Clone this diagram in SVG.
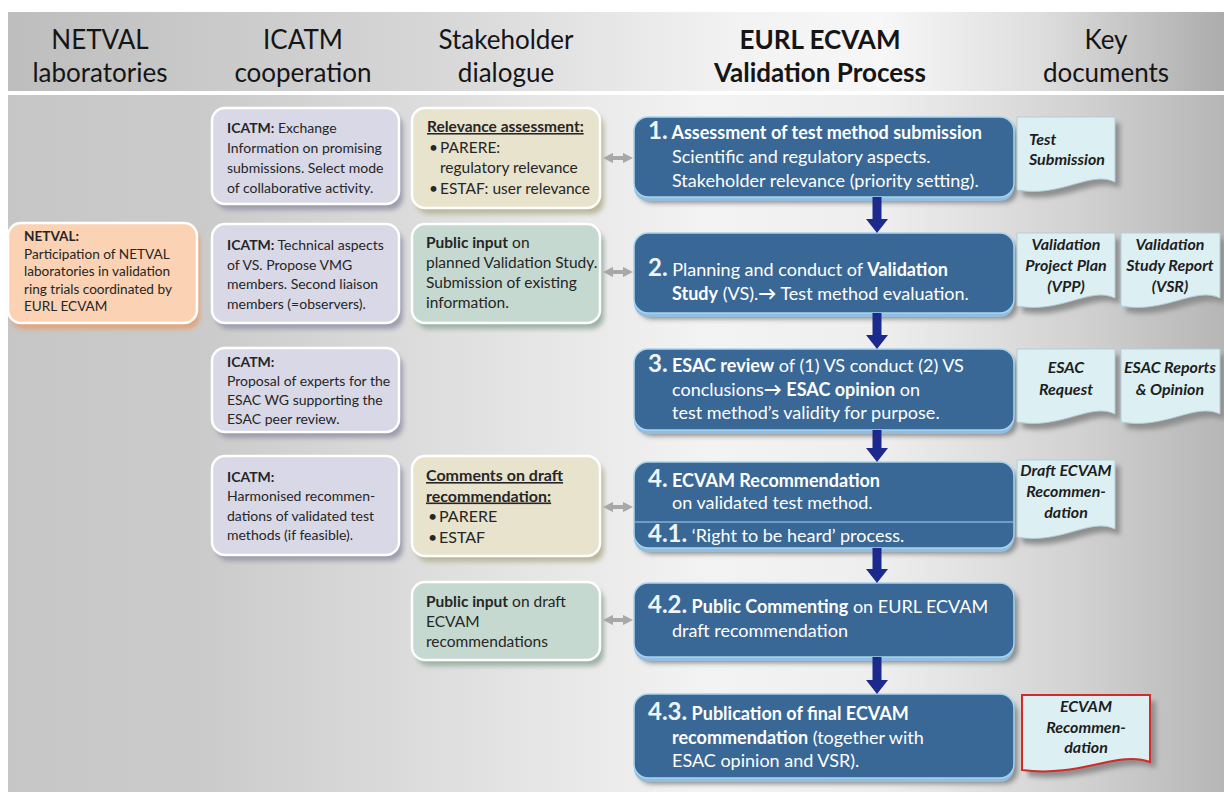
<svg xmlns="http://www.w3.org/2000/svg" width="1224" height="792" viewBox="0 0 1224 792">
<defs>
<linearGradient id="gHead" x1="0" y1="0" x2="1224" y2="0" gradientUnits="userSpaceOnUse">
<stop offset="0" stop-color="#bdbdbd"/><stop offset="0.35" stop-color="#d6d6d6"/><stop offset="0.6" stop-color="#f2f2f2"/><stop offset="0.72" stop-color="#f7f7f7"/><stop offset="0.85" stop-color="#dedede"/><stop offset="1" stop-color="#acacac"/>
</linearGradient>
<linearGradient id="gBody" x1="0" y1="0" x2="1224" y2="0" gradientUnits="userSpaceOnUse">
<stop offset="0" stop-color="#c6c6c6"/><stop offset="0.17" stop-color="#cbcbcb"/><stop offset="0.4" stop-color="#e2e2e2"/><stop offset="0.58" stop-color="#f3f3f3"/><stop offset="0.72" stop-color="#eeeeee"/><stop offset="0.88" stop-color="#d2d2d2"/><stop offset="1" stop-color="#b6b6b6"/>
</linearGradient>
<filter id="blur" x="-20%" y="-20%" width="140%" height="150%"><feGaussianBlur stdDeviation="2.5"/></filter>
<marker id="ga" viewBox="0 0 10 10" refX="5" refY="5" markerWidth="2.6" markerHeight="2.6" orient="auto-start-reverse"><path d="M0,0 L10,5 L0,10 z" fill="#a8a8a8"/></marker>
<style>
text{font-family:Lato,"Open Sans","Liberation Sans",sans-serif}
.hd{font-size:26px;fill:#151515;text-anchor:middle}
.hb{font-weight:bold}
.box{stroke:#ffffff;stroke-width:2.5}
.ic{fill:#d8d8e7}.icS{fill:#9c9cad}
.tan{fill:#e7e3cd}.tanS{fill:#bbb79c}
.grn{fill:#c5d9d0}.grnS{fill:#9db2a6}
.nv{fill:#fbd2b3}.nvS{fill:#e2a47a}
.tx{font-size:14px;fill:#262626}
.nx{font-size:13.6px;fill:#262626}
.sx{font-size:15.5px;fill:#262626}
.b{font-weight:bold}
.u{text-decoration:underline}
.pb{fill:#3a6896;stroke:#a6d4ee;stroke-width:1.5}
.pband{fill:#92bddc}
.pshadow{fill:#8c8c8c}
.pt{font-size:18px;fill:#ffffff}
.num{font-size:24px;font-weight:bold;fill:#eef5fa}
.doc{fill:#dcf0f4;stroke:#b3cdd6;stroke-width:1}
.docS{fill:#8e8e8e}
.dt{font-size:16px;font-weight:bold;font-style:italic;fill:#1e1e1e}
.dc{text-anchor:middle}
.down{fill:#1c2a8e}
.dbl{stroke:#a8a8a8;stroke-width:4;fill:none;marker-start:url(#ga);marker-end:url(#ga)}
</style>
</defs>
<rect width="1224" height="792" fill="#ffffff"/>
<rect x="8" y="12" width="1216" height="79" fill="url(#gHead)"/>
<rect x="8" y="95" width="1216" height="697" fill="url(#gBody)"/>

<g id="headers">
<text class="hd" x="100" y="49">NETVAL</text><text class="hd" x="100" y="82">laboratories</text>
<text class="hd" x="303" y="49">ICATM</text><text class="hd" x="303" y="82">cooperation</text>
<text class="hd" x="506" y="49">Stakeholder</text><text class="hd" x="506" y="82">dialogue</text>
<text class="hd hb" x="820" y="49">EURL ECVAM</text><text class="hd hb" x="820" y="82">Validation Process</text>
<text class="hd" x="1106" y="49">Key</text><text class="hd" x="1106" y="82">documents</text>
</g>

<g id="netval">
<rect class="nvS" x="11" y="229" width="189" height="100" rx="13" filter="url(#blur)"/>
<rect class="box nv" x="8" y="223" width="189" height="100" rx="13"/>
<text class="nx" x="24" y="241"><tspan class="b">NETVAL:</tspan><tspan x="24" dy="17.5">Participation of NETVAL</tspan><tspan x="24" dy="17.5">laboratories in validation</tspan><tspan x="24" dy="17.5">ring trials coordinated by</tspan><tspan x="24" dy="17.5">EURL ECVAM</tspan></text>
</g>

<g id="icatm1">
<rect class="icS" x="216" y="114" width="187" height="96" rx="13" filter="url(#blur)"/>
<rect class="box ic" x="212" y="108" width="187" height="96" rx="13"/>
<text class="tx" x="227" y="133"><tspan class="b">ICATM:</tspan> Exchange<tspan x="227" dy="20">Information on promising</tspan><tspan x="227" dy="20">submissions. Select mode</tspan><tspan x="227" dy="20">of collaborative activity.</tspan></text>
</g>
<g id="icatm2">
<rect class="icS" x="216" y="230" width="187" height="99" rx="13" filter="url(#blur)"/>
<rect class="box ic" x="212" y="224" width="187" height="99" rx="13"/>
<text class="tx" x="227" y="250"><tspan class="b">ICATM:</tspan> Technical aspects<tspan x="227" dy="19.5">of VS. Propose VMG</tspan><tspan x="227" dy="19.5">members. Second liaison</tspan><tspan x="227" dy="19.5">members (=observers).</tspan></text>
</g>
<g id="icatm3">
<rect class="icS" x="216" y="354" width="187" height="84" rx="13" filter="url(#blur)"/>
<rect class="box ic" x="212" y="348" width="187" height="84" rx="13"/>
<text class="tx" x="227" y="367"><tspan class="b">ICATM:</tspan><tspan x="227" dy="19">Proposal of experts for the</tspan><tspan x="227" dy="19">ESAC WG supporting the</tspan><tspan x="227" dy="19">ESAC peer review.</tspan></text>
</g>
<g id="icatm4">
<rect class="icS" x="216" y="462" width="187" height="99" rx="13" filter="url(#blur)"/>
<rect class="box ic" x="212" y="456" width="187" height="99" rx="13"/>
<text class="tx" x="227" y="482"><tspan class="b">ICATM:</tspan><tspan x="227" dy="19.3">Harmonised recommen-</tspan><tspan x="227" dy="19.3">dations of validated test</tspan><tspan x="227" dy="19.3">methods (if feasible).</tspan></text>
</g>

<g id="stake1">
<rect class="tanS" x="416" y="114" width="188" height="100" rx="13" filter="url(#blur)"/>
<rect class="box tan" x="412" y="108" width="188" height="100" rx="13"/>
<text class="sx" x="427" y="132"><tspan class="b u">Relevance assessment:</tspan><tspan x="429" dy="20.5">•</tspan><tspan x="440">PARERE:</tspan><tspan x="440" dy="20.5">regulatory relevance</tspan><tspan x="429" dy="20.5">•</tspan><tspan x="440">ESTAF: user relevance</tspan></text>
</g>
<g id="stake2">
<rect class="grnS" x="416" y="230" width="188" height="99" rx="13" filter="url(#blur)"/>
<rect class="box grn" x="412" y="224" width="188" height="99" rx="13"/>
<text class="sx" x="426" y="248"><tspan class="b">Public input</tspan> on<tspan x="426" dy="20">planned Validation Study.</tspan><tspan x="426" dy="20">Submission of existing</tspan><tspan x="426" dy="20">information.</tspan></text>
</g>
<g id="stake3">
<rect class="tanS" x="416" y="462" width="188" height="100" rx="13" filter="url(#blur)"/>
<rect class="box tan" x="412" y="456" width="188" height="100" rx="13"/>
<text class="sx" x="426" y="481" style="font-size:16px"><tspan class="b u">Comments on draft</tspan><tspan class="b u" x="426" dy="20.5">recommendation:</tspan><tspan x="428" dy="20.5">•</tspan><tspan x="439">PARERE</tspan><tspan x="428" dy="20.5">•</tspan><tspan x="439">ESTAF</tspan></text>
</g>
<g id="stake4">
<rect class="grnS" x="416" y="588" width="188" height="78" rx="13" filter="url(#blur)"/>
<rect class="box grn" x="412" y="582" width="188" height="78" rx="13"/>
<text class="sx" x="426" y="607"><tspan class="b">Public input</tspan> on draft<tspan x="426" dy="20">ECVAM</tspan><tspan x="426" dy="20">recommendations</tspan></text>
</g>

<g id="p1">
<rect class="pshadow" x="638" y="123" width="380" height="80" rx="14" filter="url(#blur)"/>
<rect class="pband" x="634" y="121" width="380" height="80" rx="14"/>
<rect class="pb" x="634" y="117" width="380" height="80" rx="14"/>
<text class="pt" x="648" y="139"><tspan class="num">1.</tspan><tspan class="b"> Assessment of test method submission</tspan><tspan x="672" dy="24">Scientific and regulatory aspects.</tspan><tspan x="672" dy="24">Stakeholder relevance (priority setting).</tspan></text>
</g>
<g id="p2">
<rect class="pshadow" x="638" y="239" width="380" height="80" rx="14" filter="url(#blur)"/>
<rect class="pband" x="634" y="237" width="380" height="80" rx="14"/>
<rect class="pb" x="634" y="233" width="380" height="80" rx="14"/>
<text class="pt" x="648" y="276"><tspan class="num">2.</tspan> Planning and conduct of <tspan class="b">Validation</tspan><tspan class="b" x="672" dy="24">Study</tspan>  (VS).<tspan class="b">→</tspan>  Test method evaluation.</text>
</g>
<g id="p3">
<rect class="pshadow" x="638" y="355" width="380" height="81" rx="14" filter="url(#blur)"/>
<rect class="pband" x="634" y="353" width="380" height="81" rx="14"/>
<rect class="pb" x="634" y="349" width="380" height="81" rx="14"/>
<text class="pt" x="648" y="372"><tspan class="num">3.</tspan><tspan class="b"> ESAC review</tspan> of  (1) VS conduct (2) VS<tspan x="672" dy="23.5">conclusions</tspan><tspan class="b">→</tspan>  <tspan class="b">ESAC opinion</tspan> on<tspan x="672" dy="23.5">test method’s validity for purpose.</tspan></text>
</g>
<g id="p4">
<rect class="pshadow" x="638" y="468" width="380" height="86" rx="14" filter="url(#blur)"/>
<rect class="pband" x="634" y="466" width="380" height="86" rx="14"/>
<rect class="pb" x="634" y="462" width="380" height="86" rx="14"/>
<line x1="635" y1="522" x2="1013" y2="522" stroke="#a6d4ee" stroke-width="1"/>
<text class="pt" x="648" y="487"><tspan class="num">4.</tspan><tspan class="b"> ECVAM Recommendation</tspan><tspan x="672" dy="22">on validated test method.</tspan><tspan class="num" x="648" dy="33">4.1.</tspan> ‘Right to be heard’ process.</text>
</g>
<g id="p42">
<rect class="pshadow" x="638" y="589" width="380" height="74" rx="14" filter="url(#blur)"/>
<rect class="pband" x="634" y="587" width="380" height="74" rx="14"/>
<rect class="pb" x="634" y="583" width="380" height="74" rx="14"/>
<text class="pt" x="648" y="613"><tspan class="num">4.2.</tspan><tspan class="b"> Public Commenting</tspan> on EURL ECVAM<tspan x="672" dy="24">draft recommendation</tspan></text>
</g>
<g id="p43">
<rect class="pshadow" x="638" y="700" width="380" height="84" rx="14" filter="url(#blur)"/>
<rect class="pband" x="634" y="698" width="380" height="84" rx="14"/>
<rect class="pb" x="634" y="694" width="380" height="84" rx="14"/>
<text class="pt" x="648" y="720"><tspan class="num">4.3.</tspan><tspan class="b"> Publication of final ECVAM</tspan><tspan class="b" x="672" dy="23.5">recommendation</tspan>  (together with<tspan x="672" dy="23.5">ESAC opinion and VSR).</tspan></text>
</g>

<g id="doc-test">
<path class="docS" d="M1022 123 H1120 V188 C1095 176 1066 204 1022 196 Z" filter="url(#blur)"/>
<path class="doc" d="M1017 117 H1115 V182 C1090 170 1061 198 1017 190 Z"/>
<text class="dt" x="1029" y="145">Test<tspan x="1029" dy="20">Submission</tspan></text>
</g>
<g id="doc-vpp">
<path class="docS" d="M1022 239 H1120 V304 C1095 292 1066 320 1022 312 Z" filter="url(#blur)"/>
<path class="doc" d="M1017 233 H1115 V298 C1090 286 1061 314 1017 306 Z"/>
<text class="dt dc" x="1066" y="250">Validation<tspan x="1066" dy="21">Project Plan</tspan><tspan x="1066" dy="21">(VPP)</tspan></text>
</g>
<g id="doc-vsr">
<path class="docS" d="M1126 239 H1225 V304 C1200 292 1170 320 1126 312 Z" filter="url(#blur)"/>
<path class="doc" d="M1121 233 H1220 V298 C1195 286 1165 314 1121 306 Z"/>
<text class="dt dc" x="1170" y="250">Validation<tspan x="1170" dy="21">Study Report</tspan><tspan x="1170" dy="21">(VSR)</tspan></text>
</g>
<g id="doc-esacreq">
<path class="docS" d="M1022 355 H1120 V420 C1095 408 1066 436 1022 428 Z" filter="url(#blur)"/>
<path class="doc" d="M1017 349 H1115 V414 C1090 402 1061 430 1017 422 Z"/>
<text class="dt dc" x="1066" y="373">ESAC<tspan x="1066" dy="22">Request</tspan></text>
</g>
<g id="doc-esacrep">
<path class="docS" d="M1126 355 H1225 V420 C1200 408 1170 436 1126 428 Z" filter="url(#blur)"/>
<path class="doc" d="M1121 349 H1220 V414 C1195 402 1165 430 1121 422 Z"/>
<text class="dt dc" x="1170" y="373">ESAC Reports<tspan x="1170" dy="22">&amp; Opinion</tspan></text>
</g>
<g id="doc-draft">
<path class="docS" d="M1022 466 H1120 V535 C1095 523 1066 551 1022 543 Z" filter="url(#blur)"/>
<path class="doc" d="M1017 460 H1115 V529 C1090 517 1061 545 1017 537 Z"/>
<text class="dt dc" x="1066" y="476">Draft ECVAM<tspan x="1066" dy="21">Recommen-</tspan><tspan x="1066" dy="21">dation</tspan></text>
</g>
<g id="doc-final">
<path class="docS" d="M1028 701 H1156 V768 C1124 756 1086 784 1028 776 Z" filter="url(#blur)"/>
<path class="doc" d="M1022 695 H1150 V762 C1118 750 1080 778 1022 770 Z" style="stroke:#d42a2a;stroke-width:2"/>
<text class="dt dc" x="1086" y="712">ECVAM<tspan x="1086" dy="20.5">Recommen-</tspan><tspan x="1086" dy="20.5">dation</tspan></text>
</g>

<g id="connectors">
<path class="down" d="M872.5 197 V219 H866 L877 233 L888 219 H881.5 V197 Z"/>
<path class="down" d="M872.5 313 V335 H866 L877 349 L888 335 H881.5 V313 Z"/>
<path class="down" d="M872.5 430 V448 H866 L877 462 L888 448 H881.5 V430 Z"/>
<path class="down" d="M872.5 548 V569 H866 L877 583 L888 569 H881.5 V548 Z"/>
<path class="down" d="M872.5 657 V680 H866 L877 694 L888 680 H881.5 V657 Z"/>
<line class="dbl" x1="608" y1="158" x2="628" y2="158"/>
<line class="dbl" x1="608" y1="272" x2="628" y2="272"/>
<line class="dbl" x1="608" y1="507" x2="628" y2="507"/>
<line class="dbl" x1="608" y1="620" x2="628" y2="620"/>
</g>
</svg>
